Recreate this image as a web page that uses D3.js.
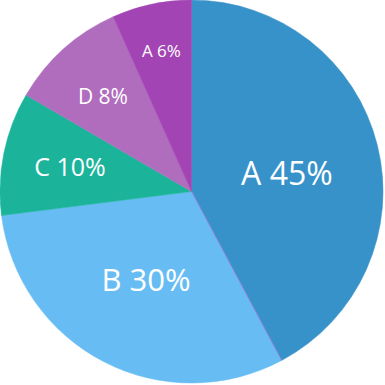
<html>
    <head>
        <style>
            body { margin: 0; background: #fff; }
        </style>
        <script src="https://cdnjs.cloudflare.com/ajax/libs/d3/7.8.5/d3.min.js"></script>
    </head>
    <body>
        <script>
            const categories = ['A', 'B', 'C', 'D', 'A'];
            const values = [42.2, 30.8, 10.4, 9.9, 6.7];
            const labels = ['A 45%', 'B 30%', 'C 10%', 'D 8%', 'A 6%'];
            const colors = ['#3892ca', '#67bdf3', '#1bb49b', '#b06cbd', '#a344b4'];

            // label styling per slice
            const labelSize = [32, 31, 25, 21, 17];
            const labelRadius = [97, 99, 124, 130, 144];
            const labelShift = [3.6, 0, 0, -1, 0]; // degrees

            const width = 385;
            const height = 385;
            const radius = 191.5;

            const svg = d3.select('body').append('svg')
                .attr('width', width)
                .attr('height', height);
            const g = svg.append('g')
                .attr('transform', `translate(191.5, 191.5)`);

            const pie = d3.pie().sort(null).value(d => d);
            const arcs = pie(values);
            const arc = d3.arc().innerRadius(0).outerRadius(radius);

            g.selectAll('.slice')
                .data(arcs)
                .enter().append('path')
                .attr('class', 'slice')
                .attr('d', arc)
                .style('fill', (d, i) => colors[i])
                .style('stroke', (d, i) => colors[i])
                .style('stroke-width', 0.5);

            // thin purple seam between A and B, as in the original
            const seam = arcs[1].startAngle;
            g.append('line')
                .attr('x1', 0).attr('y1', 0)
                .attr('x2', radius * Math.sin(seam))
                .attr('y2', -radius * Math.cos(seam))
                .style('stroke', '#a36bd0')
                .style('stroke-width', 0.7);

            g.selectAll('.label')
                .data(arcs)
                .enter().append('text')
                .attr('class', 'label')
                .attr('transform', (d, i) => {
                    const a = (d.startAngle + d.endAngle) / 2 + labelShift[i] * Math.PI / 180;
                    const r = labelRadius[i];
                    return `translate(${r * Math.sin(a)}, ${-r * Math.cos(a)})`;
                })
                .attr('text-anchor', 'middle')
                .attr('dy', '0.36em')
                .attr('font-family', 'Open Sans')
                .attr('font-size', (d, i) => labelSize[i])
                .style('fill', '#fff')
                .text((d, i) => labels[i]);
        </script>
    </body>
</html>
